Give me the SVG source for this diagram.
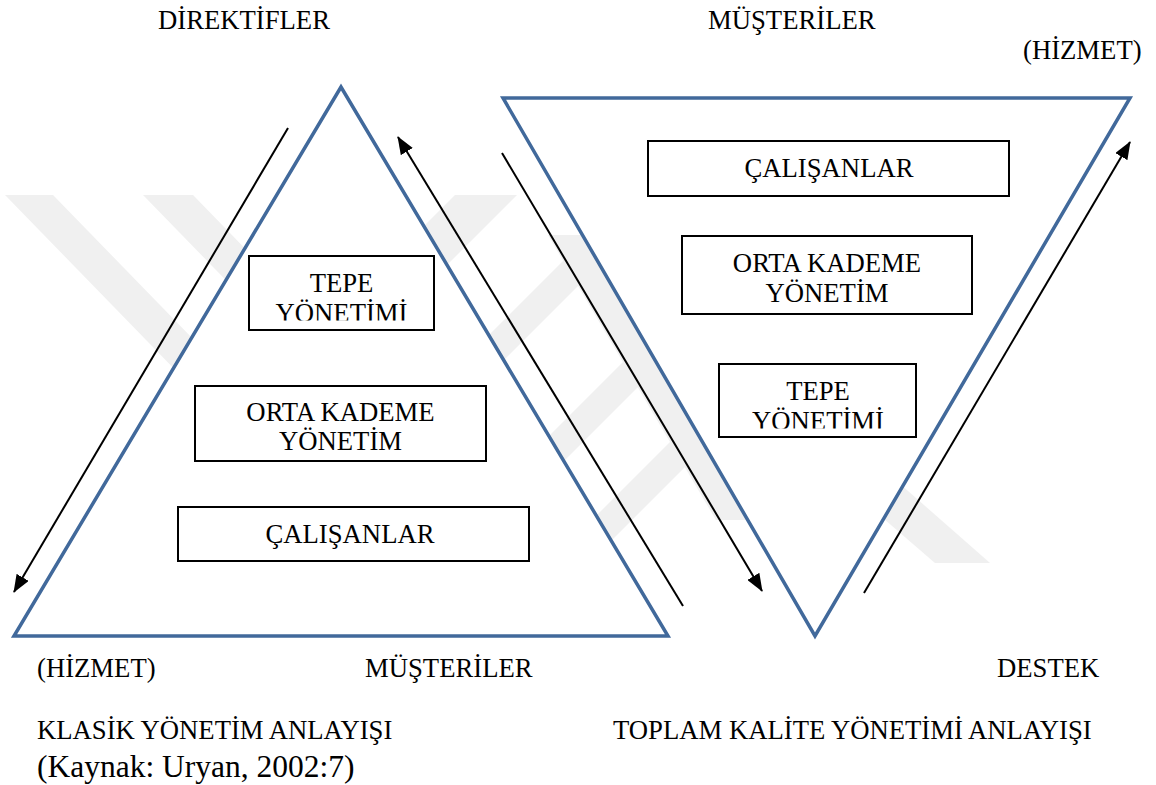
<svg xmlns="http://www.w3.org/2000/svg" width="1156" height="785" viewBox="0 0 1156 785">
<style>
.lbl{font-family:"Liberation Serif","Times New Roman",serif;font-size:26.7px;fill:#000}
.src{font-family:"Liberation Serif","Times New Roman",serif;font-size:31.5px;fill:#000}
.tri{fill:#fff;stroke:#41699b;stroke-width:3.5;stroke-linejoin:miter}
.box{fill:#fff;stroke:#000;stroke-width:2}
.arr{fill:none;stroke:#000;stroke-width:2;marker-end:url(#ah)}
.wm{fill:#f0f0f0}
</style>
<defs>
<marker id="ah" markerUnits="userSpaceOnUse" markerWidth="18" markerHeight="14" viewBox="0 0 18 14" refX="17" refY="7" orient="auto">
<path d="M0,0 L18,7 L0,14 Z" fill="#000"/>
</marker>
<clipPath id="wmclip"><rect x="0" y="195" width="1156" height="371"/></clipPath>
<clipPath id="c1"><rect x="250" y="257" width="183" height="63.5"/></clipPath>
<clipPath id="c2"><rect x="720" y="365" width="195" height="63.5"/></clipPath>
</defs>
<rect width="1156" height="785" fill="#fff"/>
<g id="watermark" clip-path="url(#wmclip)">
<polygon class="wm" points="5,195 53,195 340,490 292,490"/>
<polygon class="wm" points="143,195 193,195 300,305 250,305"/>
<polygon class="wm" points="455,195 517,195 440,272 378,272"/>
<polygon class="wm" points="440,384 660,164 660,204 440,424"/>
<polygon class="wm" points="500,485 720,265 720,305 500,525"/>
<polygon class="wm" points="560,552 760,352 760,392 560,592"/>
<polygon class="wm" points="548,235 620,235 790,520 716,520"/>
<polygon class="wm" points="810,455 867,455 990,563 935,563"/>
</g>
<g id="left-triangle"><polygon class="tri" points="341,87 14,636 668,636"/></g>
<g id="right-triangle"><polygon class="tri" points="503,98 1130,98 815,636"/></g>
<g id="connectors">
<line class="arr" x1="288" y1="128" x2="14" y2="592"/>
<line class="arr" x1="683" y1="606" x2="398" y2="137"/>
<line class="arr" x1="502" y1="153" x2="762" y2="591"/>
<line class="arr" x1="864" y1="593" x2="1130" y2="142"/>
</g>
<g id="l-tepe">
<rect class="box" x="249" y="256" width="185" height="74"/>
<g clip-path="url(#c1)">
<text class="lbl" x="341.5" y="292" text-anchor="middle">TEPE</text>
<text class="lbl" x="341.5" y="321.5" text-anchor="middle">YÖNETİMİ</text>
</g>
</g>
<g id="l-orta">
<rect class="box" x="195" y="386" width="291" height="75"/>
<text class="lbl" x="340.5" y="421" text-anchor="middle">ORTA KADEME</text>
<text class="lbl" x="340.5" y="450" text-anchor="middle">YÖNETİM</text>
</g>
<g id="l-calisanlar">
<rect class="box" x="178" y="507" width="351" height="54"/>
<text class="lbl" x="350" y="543" text-anchor="middle">ÇALIŞANLAR</text>
</g>
<g id="r-calisanlar">
<rect class="box" x="648" y="141" width="361" height="55"/>
<text class="lbl" x="829" y="177" text-anchor="middle">ÇALIŞANLAR</text>
</g>
<g id="r-orta">
<rect class="box" x="682" y="236" width="290" height="78"/>
<text class="lbl" x="827" y="272" text-anchor="middle">ORTA KADEME</text>
<text class="lbl" x="827" y="302" text-anchor="middle">YÖNETİM</text>
</g>
<g id="r-tepe">
<rect class="box" x="719" y="364" width="197" height="73"/>
<g clip-path="url(#c2)">
<text class="lbl" x="818" y="400" text-anchor="middle">TEPE</text>
<text class="lbl" x="818" y="429.5" text-anchor="middle">YÖNETİMİ</text>
</g>
</g>
<g id="labels">
<text class="lbl" x="158" y="29">DİREKTİFLER</text>
<text class="lbl" x="708" y="29">MÜŞTERİLER</text>
<text class="lbl" x="1023" y="59">(HİZMET)</text>
<text class="lbl" x="37" y="677">(HİZMET)</text>
<text class="lbl" x="365" y="677">MÜŞTERİLER</text>
<text class="lbl" x="997" y="677">DESTEK</text>
<text class="lbl" x="37" y="739">KLASİK YÖNETİM ANLAYIŞI</text>
<text class="src" x="37" y="777">(Kaynak: Uryan, 2002:7)</text>
<text class="lbl" x="613" y="739">TOPLAM KALİTE YÖNETİMİ ANLAYIŞI</text>
</g>
</svg>
